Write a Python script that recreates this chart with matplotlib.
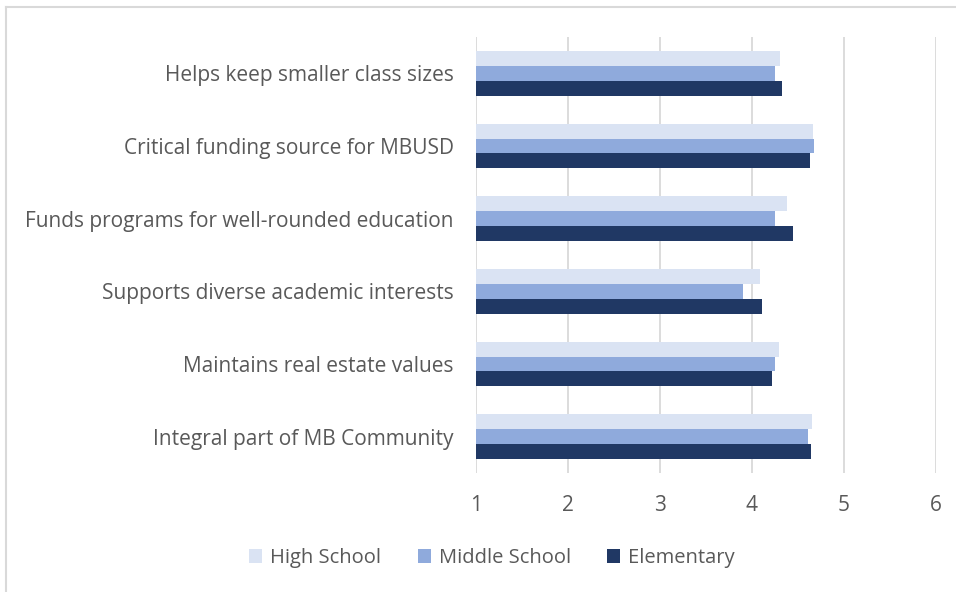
import numpy as np
import matplotlib.pyplot as plt
from matplotlib.lines import Line2D

# Categories (bottom to top as drawn by barh)
categories = [
    "Integral part of MB Community",
    "Maintains real estate values",
    "Supports diverse academic interests",
    "Funds programs for well-rounded education",
    "Critical funding source for MBUSD",
    "Helps keep smaller class sizes",
]
high_school = [4.65, 4.29, 4.09, 4.38, 4.66, 4.30]
middle_school = [4.61, 4.25, 3.90, 4.25, 4.67, 4.25]
elementary = [4.64, 4.22, 4.11, 4.45, 4.63, 4.33]

series_names = ["High School", "Middle School", "Elementary"]
colors = ["#DAE3F3", "#8FAADC", "#203864"]
text_color = "#595959"
grid_color = "#D9D9D9"

plt.rcParams["font.family"] = ["Open Sans", "DejaVu Sans"]

fig = plt.figure(figsize=(9.56, 5.92), dpi=100)
ax = fig.add_axes([476 / 956, 1 - 473 / 592, 460 / 956, 436 / 592])

y = np.arange(len(categories))
h = 0.206
for i, (vals, name, c) in enumerate(zip([high_school, middle_school, elementary], series_names, colors)):
    offset = (1 - i) * h
    ax.barh(y + offset, np.array(vals) - 1, left=1, height=h, color=c, label=name, zorder=3)

ax.set_xlim(1, 6)
ax.set_ylim(-0.5, len(categories) - 0.5)
ax.set_xticks([1, 2, 3, 4, 5, 6])
ax.set_yticks(y)
ax.set_yticklabels(categories)
ax.grid(axis="x", color=grid_color, linewidth=1.3, zorder=0)
for s in ax.spines.values():
    s.set_visible(False)
ax.tick_params(axis="both", length=0, labelsize=15, colors=text_color)
ax.tick_params(axis="y", pad=16)
ax.tick_params(axis="x", pad=16)

leg = fig.legend(loc="center", bbox_to_anchor=(492 / 956, 1 - 558 / 592), ncol=3,
                 frameon=False, fontsize=14.5, handlelength=0.65, handleheight=0.65,
                 handletextpad=0.4, columnspacing=1.8)
for t in leg.get_texts():
    t.set_color(text_color)

# chart frame (left and top edges visible)
fig.add_artist(Line2D([5.5 / 956, 5.5 / 956], [0, 1 - 7 / 592], transform=fig.transFigure, color=grid_color, linewidth=1.5))
fig.add_artist(Line2D([5.5 / 956, 1], [1 - 7 / 592, 1 - 7 / 592], transform=fig.transFigure, color=grid_color, linewidth=1.5))

fig.savefig("out.png", dpi=100)
